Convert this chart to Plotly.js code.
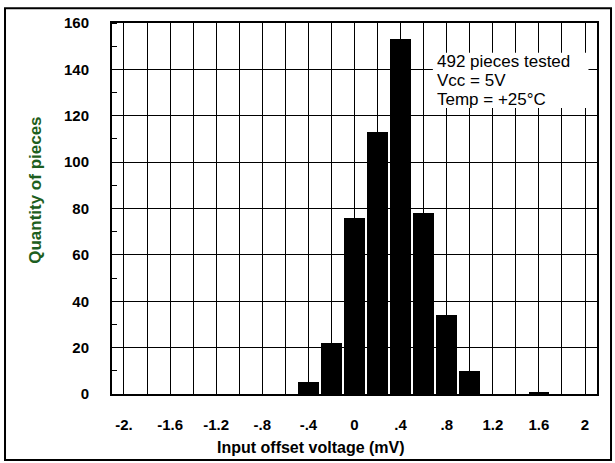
<!DOCTYPE html>
<html>
<head>
<meta charset="utf-8">
<script src="https://cdn.plot.ly/plotly-3.0.1.min.js"></script>
<style>
  html, body { margin: 0; padding: 0; background: #ffffff; }
  #chart { width: 615px; height: 463px; }
</style>
</head>
<body>
<div id="chart"></div>
<script>
// Histogram bins (mV, bin centre) and number of pieces in each bin
const binCenters = [-0.4, -0.2, 0, 0.2, 0.4, 0.6, 0.8, 1.0, 1.6];
const pieceCounts = [5, 22, 76, 113, 153, 78, 34, 10, 1];

// Axis ticks
const xTickValues = [-2, -1.6, -1.2, -0.8, -0.4, 0, 0.4, 0.8, 1.2, 1.6, 2];
const xTickLabels = ["-2.", "-1.6", "-1.2", "-.8", "-.4", "0", ".4", ".8", "1.2", "1.6", "2"];
const yTickValues = [0, 20, 40, 60, 80, 100, 120, 140, 160];

// Texts
const xTitle = "Input offset voltage (mV)";
const yTitle = "Quantity of pieces";
const noteLines = ["492 pieces tested", "Vcc = 5V", "Temp = +25°C"];

const FONT = "Liberation Sans, Arial, Helvetica, sans-serif";

const trace = {
  type: "bar",
  x: binCenters,
  y: pieceCounts,
  width: 0.18,
  marker: { color: "#000000", line: { width: 0 } },
  hoverinfo: "x+y"
};

const noteYs = [143.2, 135.0, 127.0];
const annotations = noteLines.map((t, i) => ({
  xref: "x", yref: "y",
  x: 0.70, y: noteYs[i],
  xanchor: "left", yanchor: "middle",
  text: t, showarrow: false,
  font: { family: FONT, size: 17, color: "#000000" }
}));

annotations.push({
  xref: "paper", yref: "paper",
  x: -0.157, y: 0.55,
  xanchor: "center", yanchor: "middle",
  textangle: -90,
  text: "<b>" + yTitle + "</b>", showarrow: false,
  font: { family: FONT, size: 17, color: "#1d5e20" }
});
annotations.push({
  xref: "paper", yref: "paper",
  x: 0.41, y: -0.145,
  xanchor: "center", yanchor: "middle",
  text: "<b>" + xTitle + "</b>", showarrow: false,
  font: { family: FONT, size: 16, color: "#000000" }
});

const layout = {
  width: 615, height: 463,
  margin: { l: 112, r: 18, t: 23, b: 69, pad: 0 },
  paper_bgcolor: "#ffffff",
  plot_bgcolor: "#ffffff",
  showlegend: false,
  font: { family: FONT, color: "#000000" },
  xaxis: {
    range: [-2.104, 2.104],
    tickvals: xTickValues,
    ticktext: xTickLabels,
    ticks: "",
    ticklabelstandoff: 16,
    tickfont: { family: FONT, size: 15, color: "#000000", weight: "bold" },
    showgrid: true, gridcolor: "#000000", gridwidth: 1,
    minor: { dtick: 0.2, tick0: -2, showgrid: true, gridcolor: "#000000", gridwidth: 1, ticks: "" },
    zeroline: false,
    showline: true, linecolor: "#000000", linewidth: 2, mirror: true,
    fixedrange: true
  },
  yaxis: {
    range: [0, 160],
    tickvals: yTickValues,
    ticks: "",
    ticklabelstandoff: 18,
    tickfont: { family: FONT, size: 15, color: "#000000", weight: "bold" },
    showgrid: true, gridcolor: "#000000", gridwidth: 1,
    minor: { dtick: 10, tick0: 0, ticks: "inside", ticklen: 5, tickcolor: "#000000", tickwidth: 1, showgrid: false },
    zeroline: false,
    showline: true, linecolor: "#000000", linewidth: 2, mirror: true,
    fixedrange: true
  },
  shapes: [
    { // white box behind the test-condition note
      type: "rect", layer: "above",
      xref: "x", yref: "y",
      x0: 0.68, x1: 2.03, y0: 123.3, y1: 147.2,
      fillcolor: "#ffffff", line: { width: 0 }
    },
    { // outer frame of the figure
      type: "rect", layer: "above",
      xref: "paper", yref: "paper",
      x0: -0.2206, x1: 1.0289, y0: -0.1778, y1: 1.0396,
      fillcolor: "rgba(0,0,0,0)", line: { color: "#000000", width: 2 }
    }
  ],
  annotations: annotations,
  bargap: 0
};

Plotly.newPlot("chart", [trace], layout, { displayModeBar: false, staticPlot: true });
</script>
</body>
</html>
